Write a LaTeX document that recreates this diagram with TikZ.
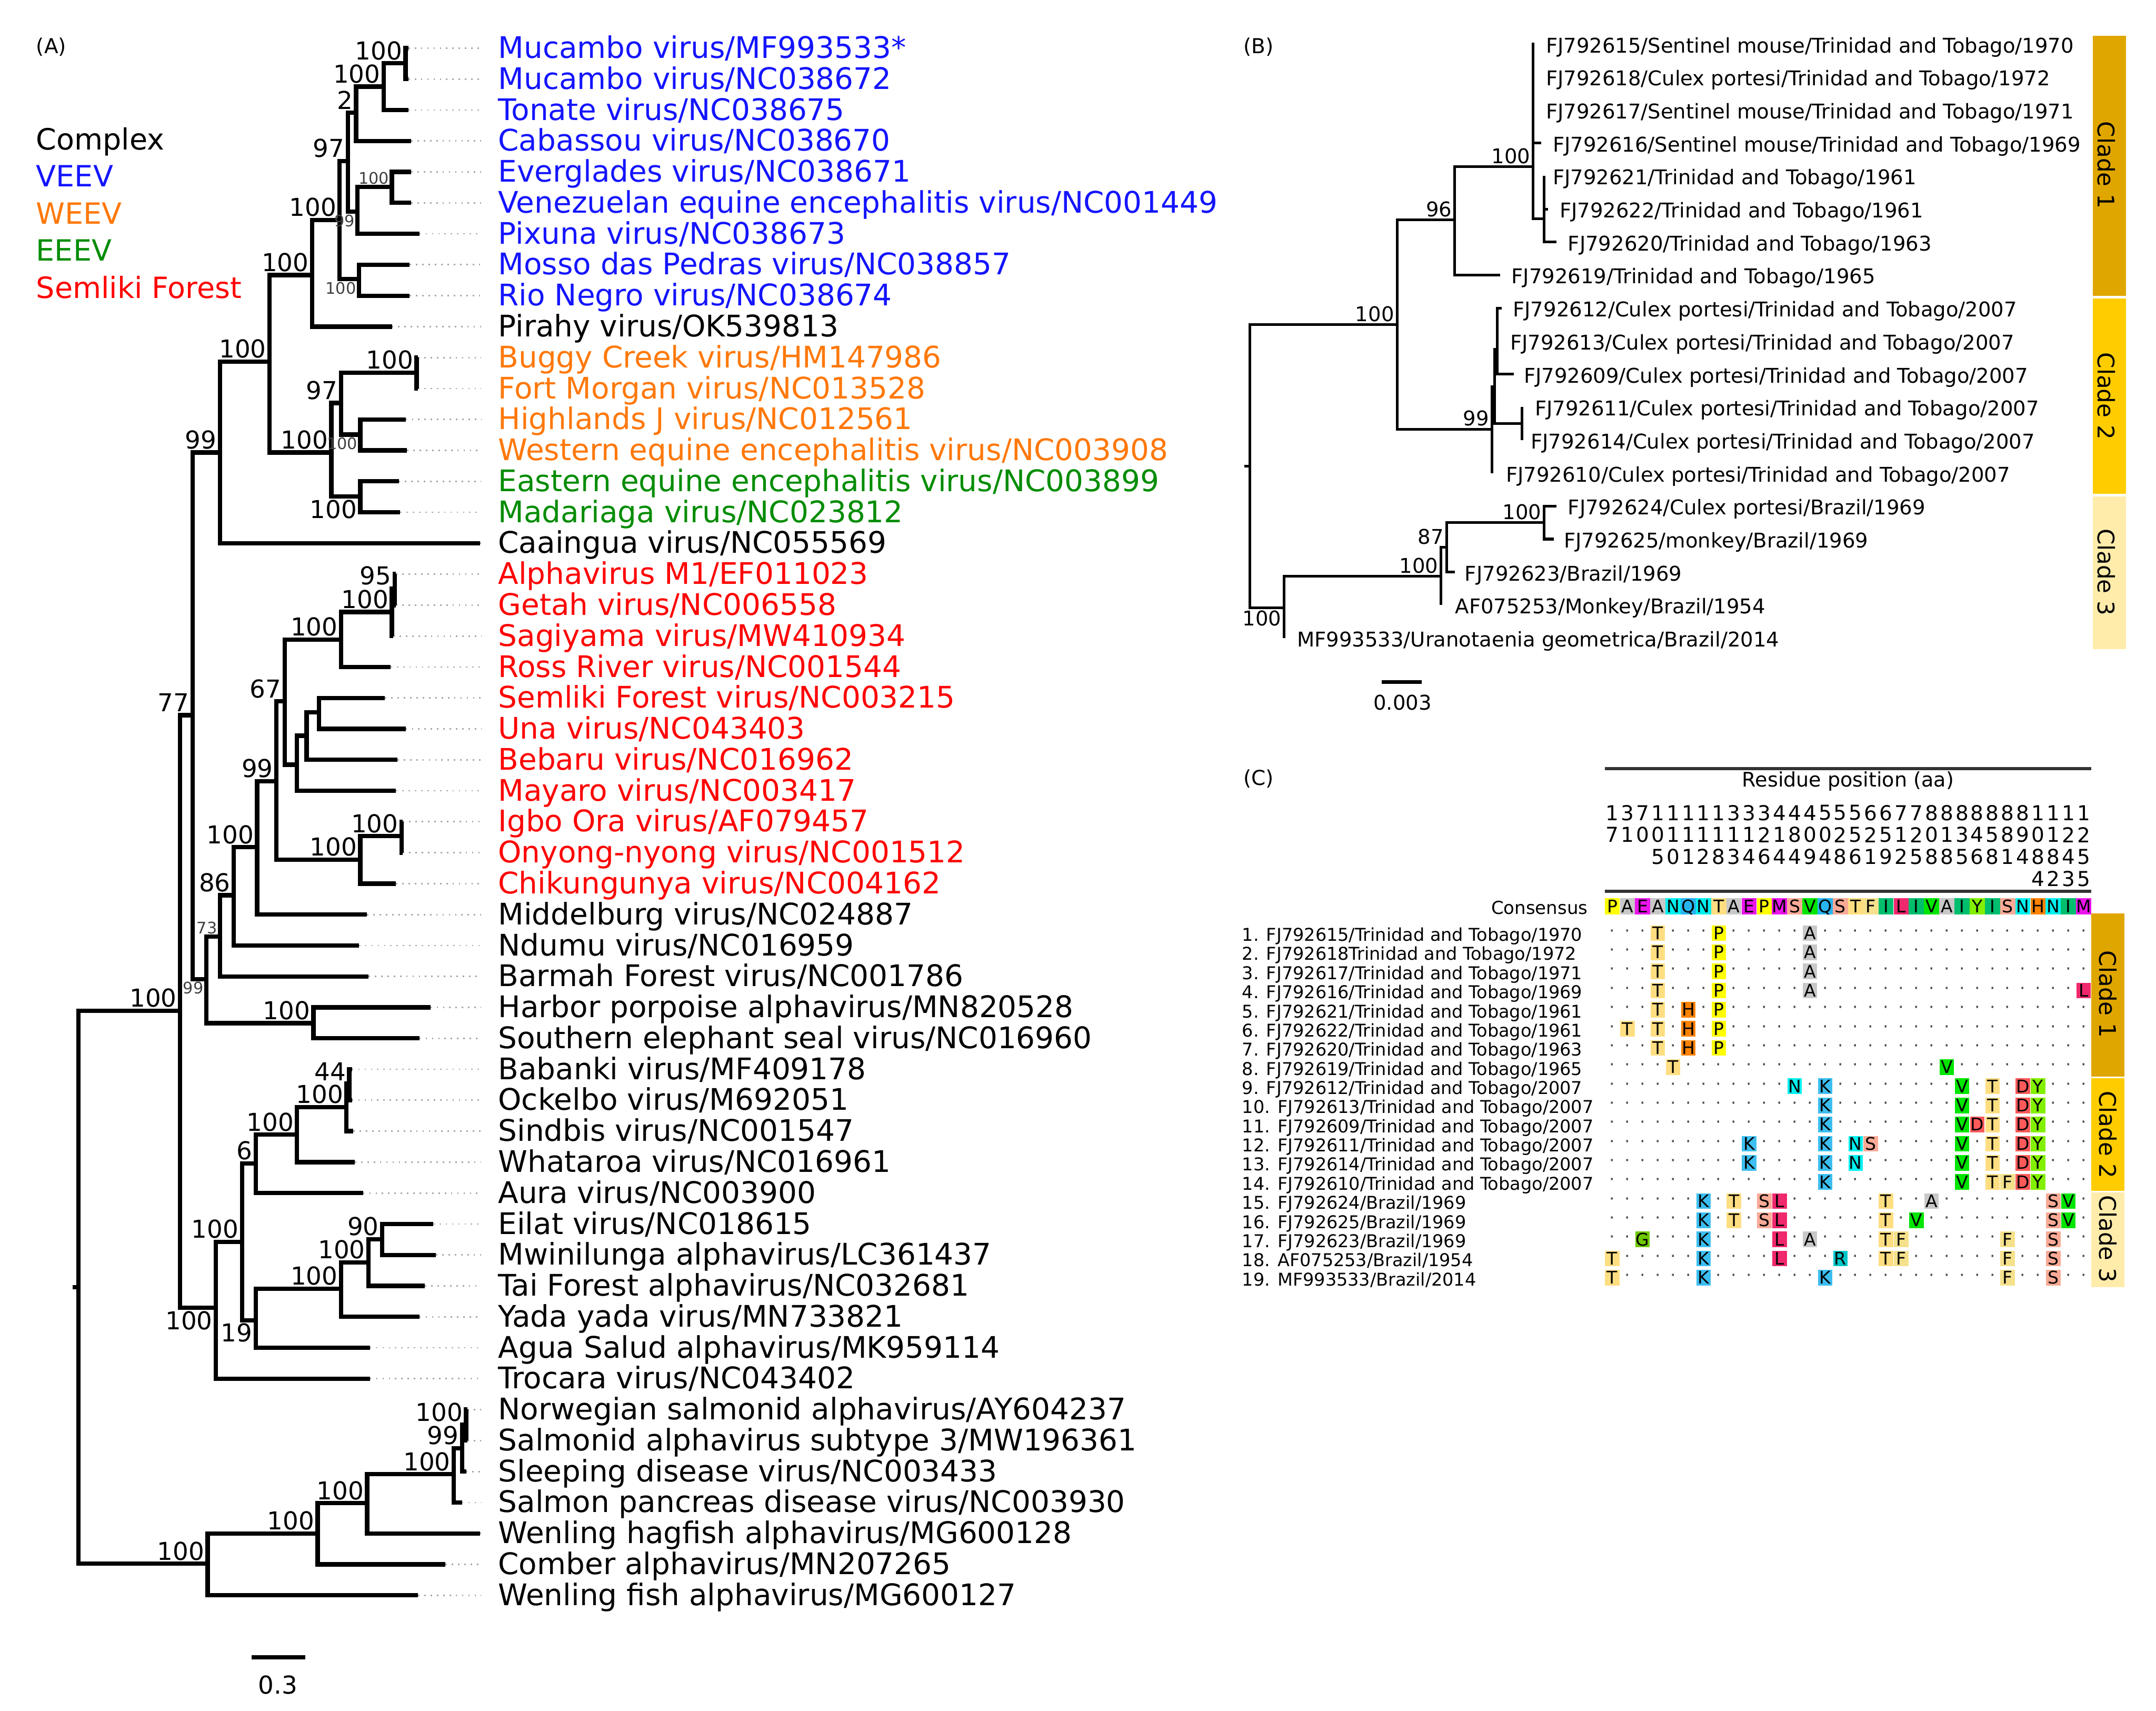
\documentclass[tikz,border=0pt]{standalone}
\usepackage{fontspec}
\setmainfont{DejaVu Sans}

\definecolor{veev}{RGB}{20,20,255}
\definecolor{weev}{RGB}{255,120,10}
\definecolor{eeev}{RGB}{0,140,0}
\definecolor{sfv}{RGB}{255,0,0}
\definecolor{cladeone}{RGB}{224,166,0}
\definecolor{cladetwo}{RGB}{255,204,0}
\definecolor{cladethree}{RGB}{255,236,170}
% residue colours
\definecolor{aaP}{RGB}{255,255,0}
\definecolor{aaA}{RGB}{200,200,200}
\definecolor{aaE}{RGB}{235,20,235}
\definecolor{aaN}{RGB}{0,240,240}
\definecolor{aaQ}{RGB}{40,180,240}
\definecolor{aaT}{RGB}{255,222,130}
\definecolor{aaM}{RGB}{235,20,235}
\definecolor{aaS}{RGB}{250,170,150}
\definecolor{aaV}{RGB}{0,230,0}
\definecolor{aaF}{RGB}{245,225,140}
\definecolor{aaI}{RGB}{0,190,110}
\definecolor{aaL}{RGB}{240,40,110}
\definecolor{aaY}{RGB}{130,240,0}
\definecolor{aaH}{RGB}{255,130,0}
\definecolor{aaK}{RGB}{60,190,240}
\definecolor{aaD}{RGB}{255,90,90}
\definecolor{aaG}{RGB}{110,200,0}
\definecolor{aaR}{RGB}{0,200,200}

\begin{document}
\begin{tikzpicture}[
        x=0.02cm, y=-0.02cm,
        branchA/.style={draw=black, line width=1.8pt},
        branchB/.style={draw=black, line width=1.1pt},
        leader/.style={draw=black!35, dotted, line width=0.6pt},
        tipA/.style={anchor=mid west, inner sep=0pt, font=\fontsize{12.3}{14}\selectfont},
        tipB/.style={anchor=mid west, inner sep=0pt, font=\fontsize{8.4}{10}\selectfont},
        bsA/.style={anchor=south east, inner sep=1.2pt, font=\fontsize{10.2}{12}\selectfont},
        bsAb/.style={bsA, anchor=north east},
        bsAs/.style={anchor=south east, inner sep=1pt, text=black!75, font=\fontsize{6.6}{8}\selectfont},
        bsAsb/.style={bsAs, anchor=north east},
        bsB/.style={anchor=south east, inner sep=1pt, font=\fontsize{8.4}{10}\selectfont},
        bsBb/.style={bsB, anchor=north east},
        panel/.style={anchor=mid west, inner sep=0pt, font=\fontsize{8.5}{10}\selectfont},
        legend/.style={anchor=mid west, inner sep=0pt, font=\fontsize{12.1}{14}\selectfont},
        clade/.style={rotate=-90, inner sep=0pt, font=\fontsize{9.5}{11}\selectfont},
        cell/.style={fill=#1, minimum width=0.21cm, minimum height=0.228cm, inner sep=0pt, text height=5.2pt, text depth=0pt, font=\fontsize{7.2}{8}\selectfont},
        cons/.style={cell=#1, minimum width=0.22cm, minimum height=0.24cm},
        seqdot/.style={inner sep=0pt, text=black!70, font=\fontsize{7.2}{8}\selectfont},
        digit/.style={inner sep=0pt, font=\fontsize{8.5}{10}\selectfont},
        rowlab/.style={anchor=mid west, inner sep=0pt, font=\fontsize{7.3}{9}\selectfont}
    ]
    \useasboundingbox (0,0) rectangle (1568,1244);

    % ---------------- (A) ----------------
    \node[panel] (titleA) at (26,34) {(A)};
    \node[legend] (legCx) at (26,104) {Complex};
    \node[legend, text=veev] (legVE) at (26,131) {VEEV};
    \node[legend, text=weev] (legWE) at (26,158) {WEEV};
    \node[legend, text=eeev] (legEE) at (26,185) {EEEV};
    \node[legend, text=sfv] (legSF) at (26,212) {Semliki Forest};

    \foreach \n/\x/\y in {rootAs/53/936, rootA/57/936, a1/131/735, n77/140/520, n99/160/329,
        n100c/196/263, n100d/227/200, nX/247/160, n97/253/117, n2/259/82, n100m/279/63,
        n100t/295/46, n99v/260/154, n100e/285/136, nMR/261/203, nWE/241/329, n97w/248/293,
        n100bf/303/271, n100hw/262/316, nEE/262/361, n99s/150/712, nHS/228/744, n73/160/681,
        n86/170/651, n100s/187/616, n99sf/201/568, n67/207/510, n100rr/248/465, n100g/285/445,
        n95/287/428, nSU/216/556, nSU2/223/535, nSU3/232/518, n100co/262/625, n100io/292/608,
        n100sin/157/951, n100b/176/903, n6/186/846, n100w/216/825, n100sb/252/805, n44/254/788,
        n19/186/960, n100y/248/937, n100t2/268/918, n90/278/901, fishA/151/1137,
        n100wh/231/1115, n100wh2/267/1093, n100sp/330/1072, n99sa/336/1053, n100no/339/1036}
        \coordinate (\n) at (\x,\y);

    \foreach \i/\xt/\col/\txt in {
        1/297/veev/{Mucambo virus/MF993533*},
        2/297/veev/{Mucambo virus/NC038672},
        3/297/veev/{Tonate virus/NC038675},
        4/299/veev/{Cabassou virus/NC038670},
        5/299/veev/{Everglades virus/NC038671},
        6/299/veev/{Venezuelan equine encephalitis virus/NC001449},
        7/305/veev/{Pixuna virus/NC038673},
        8/298/veev/{Mosso das Pedras virus/NC038857},
        9/298/veev/{Rio Negro virus/NC038674},
        10/285/black/{Pirahy virus/OK539813},
        11/304/weev/{Buggy Creek virus/HM147986},
        12/304/weev/{Fort Morgan virus/NC013528},
        13/295/weev/{Highlands J virus/NC012561},
        14/296/weev/{Western equine encephalitis virus/NC003908},
        15/290/eeev/{Eastern equine encephalitis virus/NC003899},
        16/291/eeev/{Madariaga virus/NC023812},
        17/349/black/{Caaingua virus/NC055569},
        18/288/sfv/{Alphavirus M1/EF011023},
        19/288/sfv/{Getah virus/NC006558},
        20/286/sfv/{Sagiyama virus/MW410934},
        21/284/sfv/{Ross River virus/NC001544},
        22/280/sfv/{Semliki Forest virus/NC003215},
        23/295/sfv/{Una virus/NC043403},
        24/289/sfv/{Bebaru virus/NC016962},
        25/288/sfv/{Mayaro virus/NC003417},
        26/293/sfv/{Igbo Ora virus/AF079457},
        27/293/sfv/{Onyong-nyong virus/NC001512},
        28/288/sfv/{Chikungunya virus/NC004162},
        29/267/black/{Middelburg virus/NC024887},
        30/261/black/{Ndumu virus/NC016959},
        31/268/black/{Barmah Forest virus/NC001786},
        32/313/black/{Harbor porpoise alphavirus/MN820528},
        33/305/black/{Southern elephant seal virus/NC016960},
        34/256/black/{Babanki virus/MF409178},
        35/256/black/{Ockelbo virus/M692051},
        36/257/black/{Sindbis virus/NC001547},
        37/258/black/{Whataroa virus/NC016961},
        38/264/black/{Aura virus/NC003900},
        39/315/black/{Eilat virus/NC018615},
        40/317/black/{Mwinilunga alphavirus/LC361437},
        41/309/black/{Tai Forest alphavirus/NC032681},
        42/305/black/{Yada yada virus/MN733821},
        43/269/black/{Agua Salud alphavirus/MK959114},
        44/269/black/{Trocara virus/NC043402},
        45/340/black/{Norwegian salmonid alphavirus/AY604237},
        46/340/black/{Salmonid alphavirus subtype 3/MW196361},
        47/339/black/{Sleeping disease virus/NC003433},
        48/336/black/{Salmon pancreas disease virus/NC003930},
        49/349/black/{Wenling hagfish alphavirus/MG600128},
        50/324/black/{Comber alphavirus/MN207265},
        51/304/black/{Wenling fish alphavirus/MG600127}}{
        \pgfmathsetmacro\ty{35+22.5*(\i-1)}
        \coordinate (ta\i) at (\xt,\ty);
        \coordinate (ea\i) at (350,\ty);
        \node[tipA, text=\col] (la\i) at (362,\ty+2.5) {\txt};
        \draw[leader] (ta\i) -- (ea\i);
    }

    % branches of tree A
    \draw[branchA] (rootAs) -- (rootA);
    \draw[branchA] (rootA) |- (a1) (rootA) |- (fishA);
    \draw[branchA] (a1) |- (n77) (a1) |- (n100sin);
    \draw[branchA] (n77) |- (n99) (n77) |- (n99s);
    \draw[branchA] (n99) |- (n100c) (n99) |- (ta17);
    \draw[branchA] (n100c) |- (n100d) (n100c) |- (nWE);
    \draw[branchA] (n100d) |- (nX) (n100d) |- (ta10);
    \draw[branchA] (nX) |- (n97) (nX) |- (nMR);
    \draw[branchA] (n97) |- (n2) (n97) |- (n99v);
    \draw[branchA] (n2) |- (n100m) (n2) |- (ta4);
    \draw[branchA] (n100m) |- (n100t) (n100m) |- (ta3);
    \draw[branchA] (n100t) |- (ta1) (n100t) |- (ta2);
    \draw[branchA] (n99v) |- (n100e) (n99v) |- (ta7);
    \draw[branchA] (n100e) |- (ta5) (n100e) |- (ta6);
    \draw[branchA] (nMR) |- (ta8) (nMR) |- (ta9);
    \draw[branchA] (nWE) |- (n97w) (nWE) |- (nEE);
    \draw[branchA] (n97w) |- (n100bf) (n97w) |- (n100hw);
    \draw[branchA] (n100bf) |- (ta11) (n100bf) |- (ta12);
    \draw[branchA] (n100hw) |- (ta13) (n100hw) |- (ta14);
    \draw[branchA] (nEE) |- (ta15) (nEE) |- (ta16);
    \draw[branchA] (n99s) |- (n73) (n99s) |- (nHS);
    \draw[branchA] (nHS) |- (ta32) (nHS) |- (ta33);
    \draw[branchA] (n73) |- (n86) (n73) |- (ta31);
    \draw[branchA] (n86) |- (n100s) (n86) |- (ta30);
    \draw[branchA] (n100s) |- (n99sf) (n100s) |- (ta29);
    \draw[branchA] (n99sf) |- (n67) (n99sf) |- (n100co);
    \draw[branchA] (n67) |- (n100rr) (n67) |- (nSU);
    \draw[branchA] (n100rr) |- (n100g) (n100rr) |- (ta21);
    \draw[branchA] (n100g) |- (n95) (n100g) |- (ta20);
    \draw[branchA] (n95) |- (ta18) (n95) |- (ta19);
    \draw[branchA] (nSU) |- (nSU2) (nSU) |- (ta25);
    \draw[branchA] (nSU2) |- (nSU3) (nSU2) |- (ta24);
    \draw[branchA] (nSU3) |- (ta22) (nSU3) |- (ta23);
    \draw[branchA] (n100co) |- (n100io) (n100co) |- (ta28);
    \draw[branchA] (n100io) |- (ta26) (n100io) |- (ta27);
    \draw[branchA] (n100sin) |- (n100b) (n100sin) |- (ta44);
    \draw[branchA] (n100b) |- (n6) (n100b) |- (n19);
    \draw[branchA] (n6) |- (n100w) (n6) |- (ta38);
    \draw[branchA] (n100w) |- (n100sb) (n100w) |- (ta37);
    \draw[branchA] (n100sb) |- (n44) (n100sb) |- (ta36);
    \draw[branchA] (n44) |- (ta34) (n44) |- (ta35);
    \draw[branchA] (n19) |- (n100y) (n19) |- (ta43);
    \draw[branchA] (n100y) |- (n100t2) (n100y) |- (ta42);
    \draw[branchA] (n100t2) |- (n90) (n100t2) |- (ta41);
    \draw[branchA] (n90) |- (ta39) (n90) |- (ta40);
    \draw[branchA] (fishA) |- (n100wh) (fishA) |- (ta51);
    \draw[branchA] (n100wh) |- (n100wh2) (n100wh) |- (ta50);
    \draw[branchA] (n100wh2) |- (n100sp) (n100wh2) |- (ta49);
    \draw[branchA] (n100sp) |- (n99sa) (n100sp) |- (ta48);
    \draw[branchA] (n99sa) |- (n100no) (n99sa) |- (ta47);
    \draw[branchA] (n100no) |- (ta45) (n100no) |- (ta46);

    % support values
    \foreach \n/\t in {a1/100, n77/77, n99/99, n100c/100, n100d/100, nX/100, n97/97, n2/2,
        n100m/100, n100t/100, nWE/100, n97w/97, n100bf/100, n100rr/100, n100g/100, n95/95,
        n67/67, n99sf/99, n100s/100, n86/86, n100co/100, n100io/100, nHS/100, n100b/100,
        n6/6, n100w/100, n100sb/100, n44/44, n100y/100, n100t2/100, n90/90, fishA/100,
        n100wh/100, n100wh2/100, n100sp/100, n99sa/99, n100no/100}
        \node[bsA] (bs-\n) at (\n) {\t};
    \foreach \n/\t in {n100sin/100, n19/19, nEE/100}
        \node[bsAb] (bs-\n) at (\n) {\t};
    \foreach \n/\t in {n100e/100, n73/73}
        \node[bsAs] (bs-\n) at (\n) {\t};
    \foreach \n/\t in {n99v/99, nMR/100, n100hw/100, n99s/99}
        \node[bsAsb] (bs-\n) at (\n) {\t};

    \coordinate (sbA1) at (183,1205);
    \coordinate (sbA2) at (222,1205);
    \draw[line width=1.8pt] (sbA1) -- (sbA2);
    \node[font=\fontsize{10.2}{12}\selectfont] (sbAlab) at (202,1225) {0.3};

    % ---------------- (B) ----------------
    \node[panel] (titleB) at (904,34) {(B)};
    \fill[cladeone] (1522,26) rectangle (1546,215);
    \fill[cladetwo] (1522,217) rectangle (1546,359);
    \fill[cladethree] (1522,361) rectangle (1546,472);
    \node[clade] (cladeB1) at (1532,120) {Clade 1};
    \node[clade] (cladeB2) at (1532,288) {Clade 2};
    \node[clade] (cladeB3) at (1532,416) {Clade 3};

    \foreach \n/\x/\y in {rootBs/905/339, rootB/909/339, b100/1016/236, b96/1058/160,
        b100c/1115/121, b61/1123/159, b99/1085/312, bc2a/1087/281, bc2b/1089/254,
        bc2c/1107/308, b100b/934/442, b100d/1048/419, b87/1052/398, b100e/1123/380}
        \coordinate (\n) at (\x,\y);

    \foreach \i/\xt/\xl/\txt in {
        1/1116/1124/{FJ792615/Sentinel mouse/Trinidad and Tobago/1970},
        2/1116/1124/{FJ792618/Culex portesi/Trinidad and Tobago/1972},
        3/1116/1124/{FJ792617/Sentinel mouse/Trinidad and Tobago/1971},
        4/1121/1129/{FJ792616/Sentinel mouse/Trinidad and Tobago/1969},
        5/1123/1129/{FJ792621/Trinidad and Tobago/1961},
        6/1126/1134/{FJ792622/Trinidad and Tobago/1961},
        7/1132/1140/{FJ792620/Trinidad and Tobago/1963},
        8/1091/1099/{FJ792619/Trinidad and Tobago/1965},
        9/1092/1100/{FJ792612/Culex portesi/Trinidad and Tobago/2007},
        10/1089/1098/{FJ792613/Culex portesi/Trinidad and Tobago/2007},
        11/1101/1108/{FJ792609/Culex portesi/Trinidad and Tobago/2007},
        12/1107/1116/{FJ792611/Culex portesi/Trinidad and Tobago/2007},
        13/1107/1113/{FJ792614/Culex portesi/Trinidad and Tobago/2007},
        14/1085/1095/{FJ792610/Culex portesi/Trinidad and Tobago/2007},
        15/1132/1140/{FJ792624/Culex portesi/Brazil/1969},
        16/1130/1137/{FJ792625/monkey/Brazil/1969},
        17/1058/1065/{FJ792623/Brazil/1969},
        18/1048/1058/{AF075253/Monkey/Brazil/1954},
        19/934/943/{MF993533/Uranotaenia geometrica/Brazil/2014}}{
        \pgfmathsetmacro\ty{32+24*(\i-1)}
        \coordinate (tb\i) at (\xt,\ty);
        \node[tipB] (lb\i) at (\xl,\ty+1.5) {\txt};
    }

    % branches of tree B
    \draw[branchB] (rootBs) -- (rootB);
    \draw[branchB] (rootB) |- (b100) (rootB) |- (b100b);
    \draw[branchB] (b100) |- (b96) (b100) |- (b99);
    \draw[branchB] (b96) |- (b100c) (b96) |- (tb8);
    \draw[branchB] (b100c) |- (tb1) (b100c) |- (tb2) (b100c) |- (tb3) (b100c) |- (tb4) (b100c) |- (b61);
    \draw[branchB] (b61) |- (tb5) (b61) |- (tb6) (b61) |- (tb7);
    \draw[branchB] (b99) |- (bc2a) (b99) |- (tb14);
    \draw[branchB] (bc2a) |- (bc2b) (bc2a) |- (bc2c);
    \draw[branchB] (bc2b) |- (tb9) (bc2b) |- (tb10) (bc2b) |- (tb11);
    \draw[branchB] (bc2c) |- (tb12) (bc2c) |- (tb13);
    \draw[branchB] (b100b) |- (b100d) (b100b) |- (tb19);
    \draw[branchB] (b100d) |- (b87) (b100d) |- (tb18);
    \draw[branchB] (b87) |- (b100e) (b87) |- (tb17);
    \draw[branchB] (b100e) |- (tb15) (b100e) |- (tb16);

    \foreach \n/\t in {b100/100, b96/96, b100c/100, b99/99, b100d/100, b87/87, b100e/100}
        \node[bsB] (bs-\n) at (\n) {\t};
    \node[bsBb] (bs-b100b) at (b100b) {100};

    \coordinate (sbB1) at (1005,496);
    \coordinate (sbB2) at (1034,496);
    \draw[line width=1.5pt] (sbB1) -- (sbB2);
    \node[font=\fontsize{8.4}{10}\selectfont] (sbBlab) at (1020,511) {0.003};

    % ---------------- (C) ----------------
    \node[panel] (titleC) at (904,566) {(C)};
    \draw[line width=1.3pt, black!80] (1167,559) -- (1521,559);
    \draw[line width=1.3pt, black!80] (1167,648) -- (1521,648);
    \node[font=\fontsize{8.3}{10}\selectfont] (resid) at (1344,568) {Residue position (aa)};

    \foreach \d [count=\c] in {1,3,7,1,1,1,1,1,3,3,3,4,4,4,5,5,5,6,6,7,7,8,8,8,8,8,8,8,1,1,1,1}
        \node[digit] (ha\c) at (1161.47+11.06*\c,591) {\d};
    \foreach \d [count=\c] in {7,1,0,0,1,1,1,1,1,1,2,1,8,0,0,2,5,2,5,1,2,0,1,3,4,5,8,9,0,1,2,2}
        \node[digit] (hb\c) at (1161.47+11.06*\c,607) {\d};
    \foreach \d [count=\c from 4] in {5,0,1,2,8,3,4,6,4,4,9,4,8,6,1,9,2,5,8,8,5,6,8,1,4,8,8,4,5}
        \node[digit] (hc\c) at (1161.47+11.06*\c,623) {\d};
    \foreach \d [count=\c from 29] in {4,2,3,5}
        \node[digit] (hd\c) at (1161.47+11.06*\c,639) {\d};

    \node[anchor=mid east, inner sep=0pt, font=\fontsize{7.4}{9}\selectfont] (conslab) at (1155,660) {Consensus};
    \foreach \a [count=\c] in {P,A,E,A,N,Q,N,T,A,E,P,M,S,V,Q,S,T,F,I,L,I,V,A,I,Y,I,S,N,H,N,I,M}
        \node[cons=aa\a] (cs\c) at (1161.47+11.06*\c,659) {\a};

    \fill[cladeone] (1521,664) rectangle (1545,783);
    \fill[cladetwo] (1521,784) rectangle (1545,866);
    \fill[cladethree] (1521,867) rectangle (1545,936);
    \node[clade] (cladeC1) at (1533,723) {Clade 1};
    \node[clade] (cladeC2) at (1533,825) {Clade 2};
    \node[clade] (cladeC3) at (1533,901) {Clade 3};

    \foreach \r/\t in {
        1/{1. FJ792615/Trinidad and Tobago/1970},
        2/{2. FJ792618Trinidad and Tobago/1972},
        3/{3. FJ792617/Trinidad and Tobago/1971},
        4/{4. FJ792616/Trinidad and Tobago/1969},
        5/{5. FJ792621/Trinidad and Tobago/1961},
        6/{6. FJ792622/Trinidad and Tobago/1961},
        7/{7. FJ792620/Trinidad and Tobago/1963},
        8/{8. FJ792619/Trinidad and Tobago/1965},
        9/{9. FJ792612/Trinidad and Tobago/2007},
        10/{10. FJ792613/Trinidad and Tobago/2007},
        11/{11. FJ792609/Trinidad and Tobago/2007},
        12/{12. FJ792611/Trinidad and Tobago/2007},
        13/{13. FJ792614/Trinidad and Tobago/2007},
        14/{14. FJ792610/Trinidad and Tobago/2007},
        15/{15. FJ792624/Brazil/1969},
        16/{16. FJ792625/Brazil/1969},
        17/{17. FJ792623/Brazil/1969},
        18/{18. AF075253/Brazil/1954},
        19/{19. MF993533/Brazil/2014}}
        \node[rowlab] (rl\r) at (903,665.58+13.92*\r) {\t};

    % substitutions
    \foreach \r/\c/\a in {1/4/T, 1/8/P, 1/14/A, 2/4/T, 2/8/P, 2/14/A, 3/4/T, 3/8/P, 3/14/A,
        4/4/T, 4/8/P, 4/14/A, 4/32/L, 5/4/T, 5/6/H, 5/8/P, 6/2/T, 6/4/T, 6/6/H, 6/8/P,
        7/4/T, 7/6/H, 7/8/P, 8/5/T, 8/23/V,
        9/13/N, 9/15/K, 9/24/V, 9/26/T, 9/28/D, 9/29/Y,
        10/15/K, 10/24/V, 10/26/T, 10/28/D, 10/29/Y,
        11/15/K, 11/24/V, 11/25/D, 11/26/T, 11/28/D, 11/29/Y,
        12/10/K, 12/15/K, 12/17/N, 12/18/S, 12/24/V, 12/26/T, 12/28/D, 12/29/Y,
        13/10/K, 13/15/K, 13/17/N, 13/24/V, 13/26/T, 13/28/D, 13/29/Y,
        14/15/K, 14/24/V, 14/26/T, 14/27/F, 14/28/D, 14/29/Y,
        15/7/K, 15/9/T, 15/11/S, 15/12/L, 15/19/T, 15/22/A, 15/30/S, 15/31/V,
        16/7/K, 16/9/T, 16/11/S, 16/12/L, 16/19/T, 16/21/V, 16/30/S, 16/31/V,
        17/3/G, 17/7/K, 17/12/L, 17/14/A, 17/19/T, 17/20/F, 17/27/F, 17/30/S,
        18/1/T, 18/7/K, 18/12/L, 18/16/R, 18/19/T, 18/20/F, 18/27/F, 18/30/S,
        19/1/T, 19/7/K, 19/15/K, 19/27/F, 19/30/S}{
        \expandafter\xdef\csname sub\r-\c\endcsname{\a}
        \node[cell=aa\a] (s\r-\c) at (1161.47+11.06*\c,664.58+13.92*\r) {\a};
    }

    % identical residues
    \foreach \r in {1,...,19}
        \foreach \c in {1,...,32}{
            \ifcsname sub\r-\c\endcsname\else
                \node[seqdot] (d\r-\c) at (1161.47+11.06*\c,664.58+13.92*\r) {·};
            \fi
        }

\end{tikzpicture}
\end{document}
